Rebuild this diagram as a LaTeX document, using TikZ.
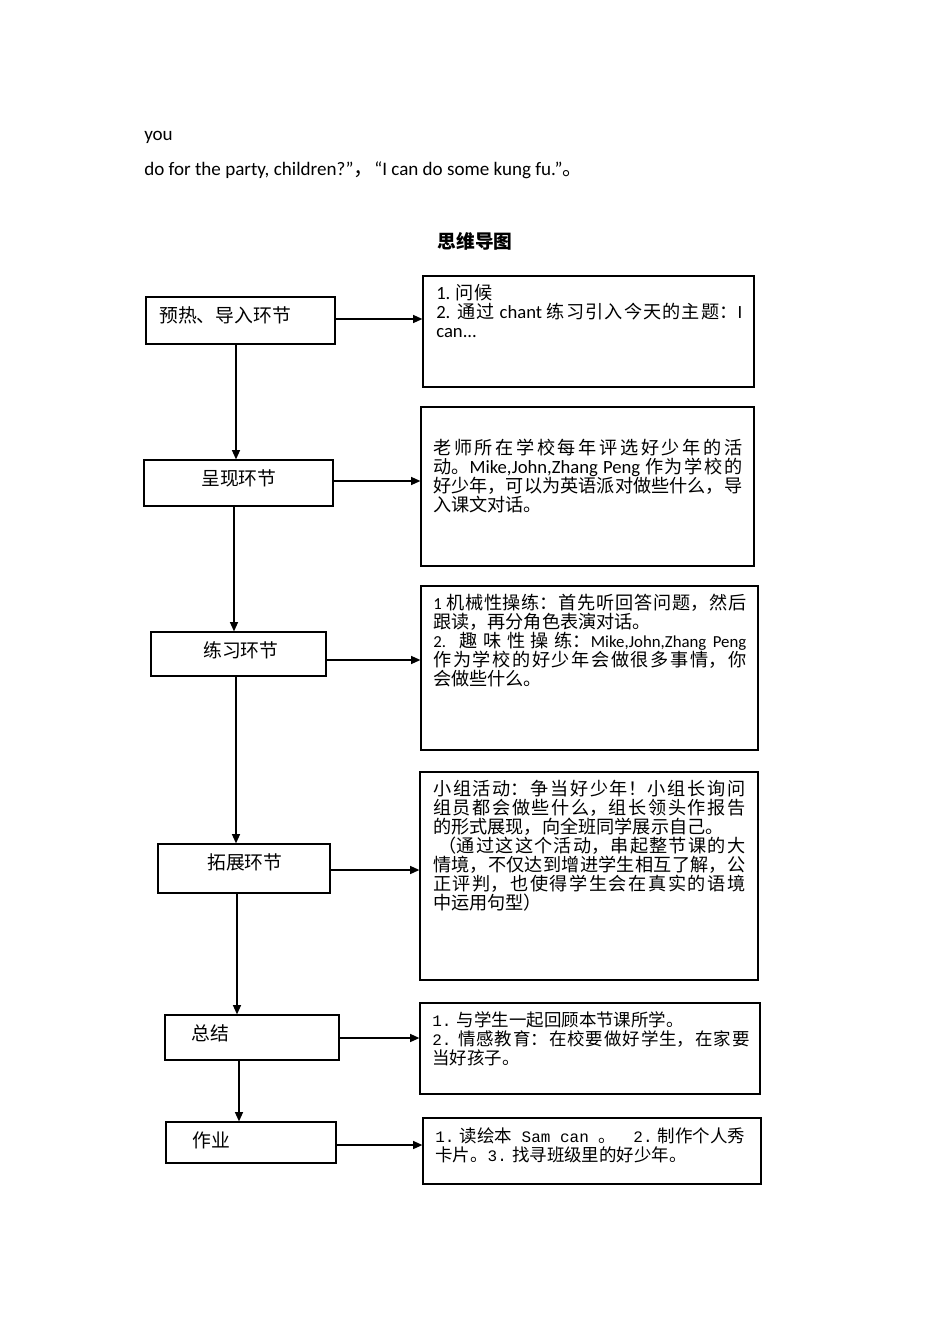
\documentclass[tikz,border=0pt]{standalone}
\usepackage{fontspec}
\setmainfont{Noto Sans CJK SC}[Scale=1.08]
\newfontfamily\en{Carlito}
\newfontfamily\mono{Liberation Mono}
\newfontfamily\zs{Noto Sans CJK SC}[Scale=1.04]
\newfontfamily\zl{Noto Sans CJK SC}[Scale=1.12]
\XeTeXlinebreaklocale "zh"
\XeTeXlinebreakskip=0pt plus 3pt
\setlength\parindent{0pt}
\lineskiplimit=-20pt
\usetikzlibrary{fit,arrows.meta}
\tikzset{
  box/.style={draw, line width=0.9pt, inner sep=0pt},
  arr/.style={line width=1.1pt, -{Triangle[length=7pt,width=6pt]}},
  txt/.style={inner sep=0pt, anchor=north west, text width=#1, align=justify, font=\fontsize{12.6}{14.25}\selectfont},
  lab/.style={inner sep=0pt, anchor=west, font=\fontsize{12.6}{14.25}\selectfont\zl},
}
\newcommand\mn[1]{{\fontsize{12}{14.25}\selectfont\mono #1}}
\newcommand\EN[1]{{\fontsize{14}{14.25}\selectfont\en #1}}
\begin{document}
\begin{tikzpicture}[x=0.75pt,y=-0.75pt]
\useasboundingbox (0,0) rectangle (950,1344);

% header text
\node[anchor=base west, inner sep=0pt, font=\fontsize{14.3}{15}\selectfont\en] (t1) at (144,141) {you};
\node[anchor=base west, inner sep=0pt, font=\fontsize{14.3}{15}\selectfont] (t2) at (144,176) {{\en do for the party, children?”}，{\en “I can do some kung fu.”}。};
\node[inner sep=0pt, font=\fontsize{13}{15}\selectfont\bfseries] (title) at (475,241) {思维导图};

% left boxes
\node[box, fit={(146,297) (335,344)}] (L1) {};
\node[box, fit={(144,460) (333,506)}] (L2) {};
\node[box, fit={(151,632) (326,676)}] (L3) {};
\node[box, fit={(158,844) (330,893)}] (L4) {};
\node[box, fit={(165,1015) (339,1060)}] (L5) {};
\node[box, fit={(166,1122) (336,1163)}] (L6) {};

\node[lab] (l1) at (159,315) {预热、导入环节};
\node[lab] (l2) at (201,478) {呈现环节};
\node[lab] (l3) at (203,650) {练习环节};
\node[lab] (l4) at (207,862) {拓展环节};
\node[lab] (l5) at (191,1033) {总结};
\node[lab] (l6) at (192,1140) {作业};

% right boxes
\node[box, fit={(423,276) (754,387)}] (R1) {};
\node[box, fit={(421,407) (754,566)}] (R2) {};
\node[box, fit={(421,586) (758,750)}] (R3) {};
\node[box, fit={(420,772) (758,980)}] (R4) {};
\node[box, fit={(420,1003) (760,1094)}] (R5) {};
\node[box, fit={(423,1118) (761,1184)}] (R6) {};

\node[txt=229.5pt] (r1) at (436,284) {\EN{1.} 问候\\\EN{2.} 通过 \EN{chant} 练习引入今天的主题：\EN{I}\linebreak \EN{can...}};

\node[txt=231.75pt] (r2) at (433,439) {老师所在学校每年评选好少年的活\linebreak 动。\EN{Mike,John,Zhang Peng} 作为学校的\linebreak 好少年，可以为英语派对做些什么，导\linebreak 入课文对话。};

\node[txt=234.75pt] (r3) at (433,594) {{\en 1} 机械性操练：首先听回答问题，然后\linebreak 跟读，再分角色表演对话。\\{\en 2.} 趣味性操练：{\en Mike,John,Zhang Peng}\linebreak 作为学校的好少年会做很多事情，你\linebreak 会做些什么。};

\node[txt=234pt] (r4) at (433,780) {小组活动：争当好少年！小组长询问\linebreak 组员都会做些什么，组长领头作报告\linebreak 的形式展现，向全班同学展示自己。\\\hspace*{0.3em}（通过这这个活动，串起整节课的大\linebreak 情境，不仅达到增进学生相互了解，公\linebreak 正评判，也使得学生会在真实的语境\linebreak 中运用句型）};

\node[txt=238pt, font=\fontsize{12.6}{14.25}\selectfont\zs] (r5) at (432,1011) {\mn{1.} 与学生一起回顾本节课所学。\\\mn{2.} 情感教育：在校要做好学生，在家要\linebreak 当好孩子。};

\node[txt=244pt, font=\fontsize{12.6}{14.25}\selectfont\zs] (r6) at (435,1127) {\mn{1.} 读绘本\mn{ Sam can }。\hspace{1em}\mn{2.} 制作个人秀\\卡片。\mn{3.} 找寻班级里的好少年。};

% horizontal arrows
\draw[arr] (L1.east |- 0,319) -- (R1.west |- 0,319);
\draw[arr] (L2.east |- 0,481) -- (R2.west |- 0,481);
\draw[arr] (L3.east |- 0,660) -- (R3.west |- 0,660);
\draw[arr] (L4.east |- 0,870) -- (R4.west |- 0,870);
\draw[arr] (L5.east |- 0,1038) -- (R5.west |- 0,1038);
\draw[arr] (L6.east |- 0,1145) -- (R6.west |- 0,1145);

% vertical arrows
\draw[arr] (L1.south -| 236,0) -- (L2.north -| 236,0);
\draw[arr] (L2.south -| 234,0) -- (L3.north -| 234,0);
\draw[arr] (L3.south -| 236,0) -- (L4.north -| 236,0);
\draw[arr] (L4.south -| 237,0) -- (L5.north -| 237,0);
\draw[arr] (L5.south -| 239,0) -- (L6.north -| 239,0);
\end{tikzpicture}
\end{document}
